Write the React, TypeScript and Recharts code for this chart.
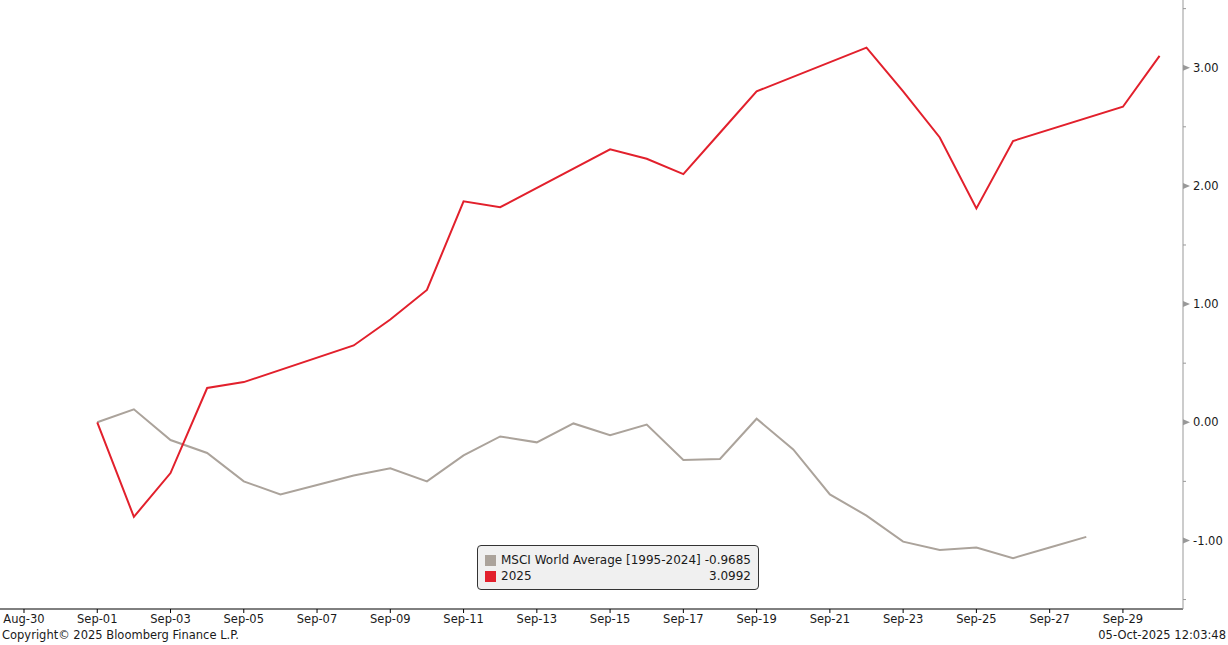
import { LineChart, Line, XAxis, YAxis } from "recharts";

// calendar days shown on the chart, Sep-01 .. Sep-30
const dayLabels = [
  "Sep-01", "Sep-02", "Sep-03", "Sep-04", "Sep-05", "Sep-06", "Sep-07", "Sep-08", "Sep-09", "Sep-10",
  "Sep-11", "Sep-12", "Sep-13", "Sep-14", "Sep-15", "Sep-16", "Sep-17", "Sep-18", "Sep-19", "Sep-20",
  "Sep-21", "Sep-22", "Sep-23", "Sep-24", "Sep-25", "Sep-26", "Sep-27", "Sep-28", "Sep-29", "Sep-30",
];

const tickLabels = [
  "Aug-30", "Sep-01", "Sep-03", "Sep-05", "Sep-07", "Sep-09", "Sep-11", "Sep-13",
  "Sep-15", "Sep-17", "Sep-19", "Sep-21", "Sep-23", "Sep-25", "Sep-27", "Sep-29",
];

// seasonal average, every calendar day up to Sep-28
const msciAverage = [
  0.0, 0.11, -0.15, -0.26, -0.5, -0.61, -0.53, -0.45, -0.39, -0.5,
  -0.28, -0.12, -0.17, -0.01, -0.11, -0.02, -0.32, -0.31, 0.03, -0.23,
  -0.61, -0.79, -1.01, -1.08, -1.06, -1.15, -1.06, -0.97,
];

// 2025, trading days only (weekends null)
const year2025 = [
  0.0, -0.8, -0.43, 0.29, 0.34, null, null, 0.65, 0.87, 1.12,
  1.87, 1.82, null, null, 2.31, 2.23, 2.1, 2.45, 2.8, null,
  null, 3.17, 2.8, 2.41, 1.81, 2.38, null, null, 2.67, 3.1,
];

const seriesNames = ["MSCI World Average [1995-2024]", "2025"];
const legendValues = ["-0.9685", "3.0992"];
const yTicks = [-1.5, -1, -0.5, 0, 0.5, 1, 1.5, 2, 2.5, 3, 3.5];

const GRAY = "#aba39b";
const RED = "#e2202c";
const seriesColors = [GRAY, RED];
const FONT = "'DejaVu Sans', sans-serif";
const TEXT = "#1a1a1a";

// Aug-30 is day 0, so Sep-01 is day 2
const data = dayLabels.map((label, i) => ({
  day: i + 2,
  label,
  msci: msciAverage[i] ?? null,
  y2025: year2025[i],
}));

const xTicks = tickLabels.map((_, i) => i * 2);

function RightTick(props: any) {
  const { x, y, payload } = props;
  const v = payload.value as number;
  if (v % 1 !== 0) {
    return <line x1={x} y1={y} x2={x + 3} y2={y} stroke="#999" strokeWidth={1} />;
  }
  return (
    <g>
      <polygon points={`${x},${y - 3} ${x + 7},${y} ${x},${y + 3}`} fill="#999" />
      <text x={x + 10} y={y} dy="0.36em" fontSize={11.5} fontFamily={FONT} fill={TEXT}>
        {v.toFixed(2)}
      </text>
    </g>
  );
}

function LegendBox() {
  return (
    <div
      style={{
        position: "absolute",
        left: 477,
        top: 545,
        width: 282,
        boxSizing: "border-box",
        background: "#f0f0f0",
        border: "1px solid #333",
        borderRadius: 4,
        padding: "6px 7px 5px 7px",
        fontSize: 12,
        color: TEXT,
        lineHeight: "16px",
        whiteSpace: "nowrap",
      }}
    >
      {seriesNames.map((name, i) => (
        <div key={name} style={{ display: "flex", alignItems: "center" }}>
          <span style={{ width: 11, height: 11, background: seriesColors[i], marginRight: 5, flex: "none" }} />
          <span style={{ flex: 1 }}>{name}</span>
          <span>{legendValues[i]}</span>
        </div>
      ))}
    </div>
  );
}

export default function App() {
  return (
    <div style={{ position: "absolute", left: 0, top: 0, width: 1228, height: 645, background: "#fff", fontFamily: FONT }}>
      <LineChart width={1228} height={645} data={data} margin={{ top: 0, right: 0, bottom: 0, left: 0 }}>
        <XAxis
          dataKey="day"
          type="number"
          domain={[-0.655, 31.64]}
          allowDataOverflow
          ticks={xTicks}
          tickFormatter={(v: number) => tickLabels[v / 2]}
          height={36}
          stroke="#000"
          tickSize={4}
          tickMargin={2}
          interval={0}
          tick={{ fill: TEXT, fontSize: 11.5, fontFamily: FONT }}
        />
        <YAxis
          orientation="right"
          type="number"
          domain={[-1.58, 3.573]}
          allowDataOverflow
          ticks={yTicks}
          interval={0}
          width={45}
          stroke="#999"
          tickLine={false}
          tickSize={0}
          tickMargin={0}
          tick={<RightTick />}
        />
        <Line
          dataKey="msci"
          name={seriesNames[0]}
          stroke={GRAY}
          strokeWidth={2}
          dot={false}
          activeDot={false}
          isAnimationActive={false}
        />
        <Line
          dataKey="y2025"
          name={seriesNames[1]}
          stroke={RED}
          strokeWidth={2}
          dot={false}
          activeDot={false}
          connectNulls
          isAnimationActive={false}
        />
      </LineChart>
      <LegendBox />
      <div style={{ position: "absolute", left: 2, top: 628, fontSize: 11.5, color: TEXT, whiteSpace: "nowrap" }}>
        Copyright© 2025 Bloomberg Finance L.P.
      </div>
      <div style={{ position: "absolute", right: 2, top: 628, fontSize: 11.5, color: TEXT, whiteSpace: "nowrap" }}>
        05-Oct-2025 12:03:48
      </div>
    </div>
  );
}
